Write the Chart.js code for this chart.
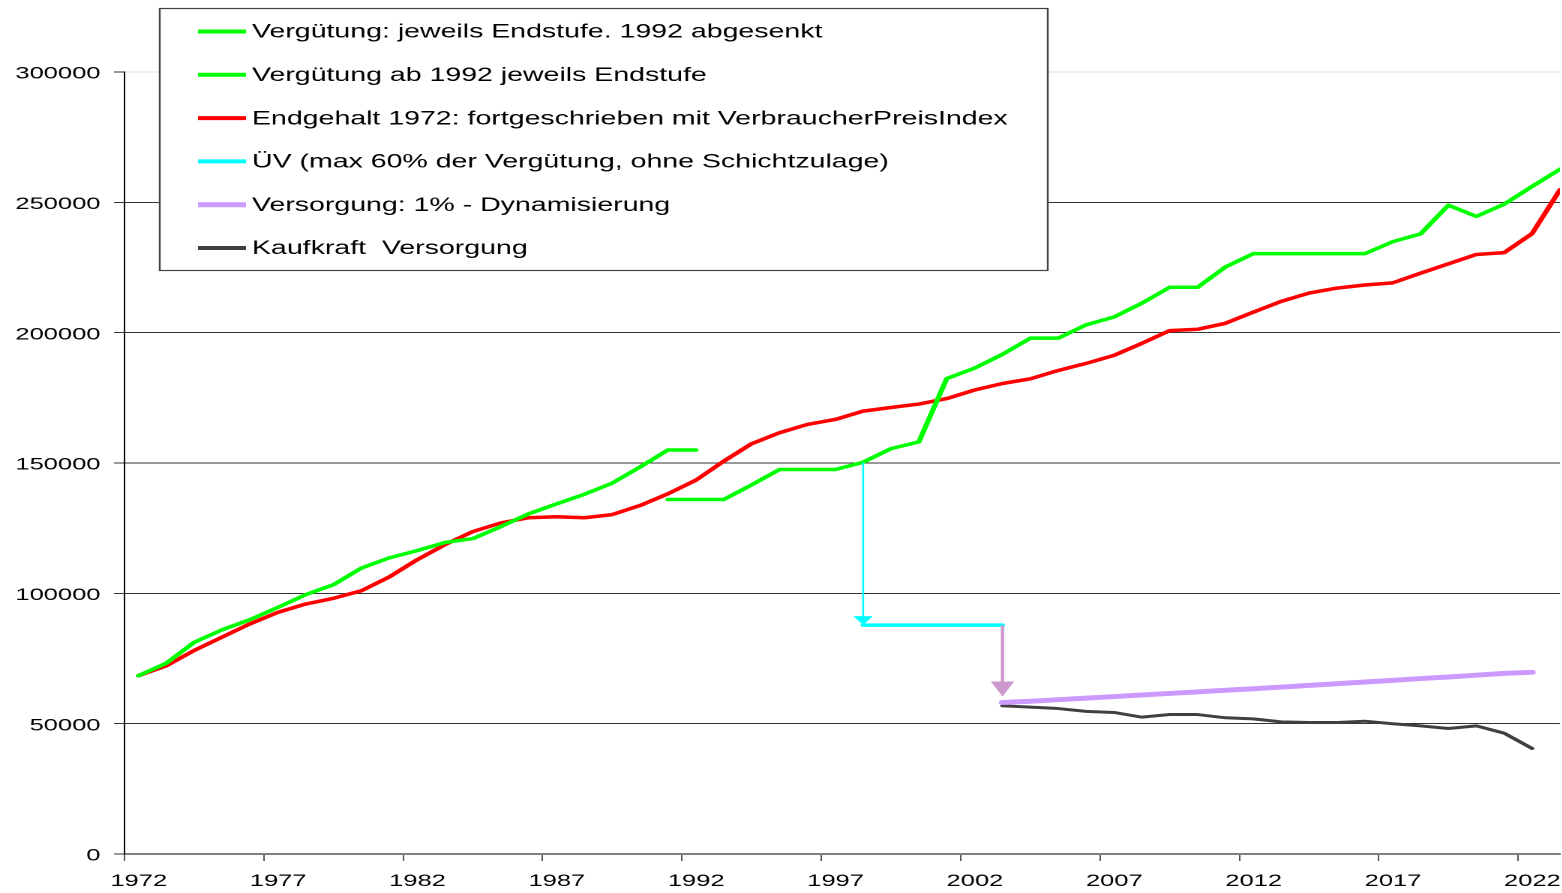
<!DOCTYPE html>
<html lang="de">
<head>
<meta charset="UTF-8">
<title>Vergütung und Versorgung</title>
<script src="https://cdn.jsdelivr.net/npm/chart.js"></script>
<style>
  html, body { margin: 0; padding: 0; background: #fff; overflow: hidden; }
  /* the original picture is stretched sideways, so the chart is drawn narrow and widened */
  #wrap { width: 1041px; height: 893px; transform: scaleX(1.5); transform-origin: 0 0; }
</style>
</head>
<body>
<div id="wrap"><canvas id="myChart" width="1041" height="893"></canvas></div>
<script>
const years = [1972, 1973, 1974, 1975, 1976, 1977, 1978, 1979, 1980, 1981,
               1982, 1983, 1984, 1985, 1986, 1987, 1988, 1989, 1990, 1991,
               1992, 1993, 1994, 1995, 1996, 1997, 1998, 1999, 2000, 2001,
               2002, 2003, 2004, 2005, 2006, 2007, 2008, 2009, 2010, 2011,
               2012, 2013, 2014, 2015, 2016, 2017, 2018, 2019, 2020, 2021,
               2022, 2023];

const labels = [
    "Vergütung: jeweils Endstufe. 1992 abgesenkt",
    "Vergütung ab 1992 jeweils Endstufe",
    "Endgehalt 1972: fortgeschrieben mit VerbraucherPreisIndex",
    "ÜV (max 60% der Vergütung, ohne Schichtzulage)",
    "Versorgung: 1% - Dynamisierung",
    "Kaufkraft  Versorgung"
];

// 1972 .. 1992
const verguetungAlt = [68400, 73200, 81200, 86000, 89900, 94600, 99500, 103300, 109700, 113600,
                       116400, 119500, 121000, 125600, 130500, 134300, 138000, 142300, 148500, 155000,
                       155000, null, null, null, null, null, null, null, null, null,
                       null, null, null, null, null, null, null, null, null, null,
                       null, null, null, null, null, null, null, null, null, null,
                       null, null];

// 1991 .. 2023
const verguetungNeu = [null, null, null, null, null, null, null, null, null, null,
                       null, null, null, null, null, null, null, null, null, 136000,
                       136000, 136000, 141600, 147500, 147500, 147500, 150300, 155500, 158100, 182400,
                       186400, 191700, 197900, 197900, 203000, 206000, 211300, 217400, 217400, 225200,
                       230300, 230300, 230300, 230300, 230300, 234900, 237900, 248900, 244600, 249300,
                       256100, 262700];

const endgehaltVPI = [68400, 72200, 78100, 83200, 88300, 92700, 95900, 98100, 101000, 106300,
                      112900, 118700, 123700, 127000, 129000, 129400, 129000, 130200, 133700, 138200,
                      143400, 150700, 157400, 161600, 164800, 166700, 169900, 171300, 172600, 174700,
                      178000, 180500, 182300, 185500, 188200, 191300, 195900, 200800, 201300, 203600,
                      207900, 212000, 215200, 217100, 218300, 219100, 222800, 226400, 230000, 230700,
                      238000, 254800];

// 1998 .. 2003
const uebergangsVersorgung = [null, null, null, null, null, null, null, null, null, null,
                              null, null, null, null, null, null, null, null, null, null,
                              null, null, null, null, null, null, 87800, 87800, 87800, 87800,
                              87800, 87800, null, null, null, null, null, null, null, null,
                              null, null, null, null, null, null, null, null, null, null,
                              null, null];

// 2003 .. 2022
const versorgung = [null, null, null, null, null, null, null, null, null, null,
                    null, null, null, null, null, null, null, null, null, null,
                    null, null, null, null, null, null, null, null, null, null,
                    null, 58100, 58600, 59200, 59800, 60400, 61000, 61600, 62200, 62800,
                    63400, 64000, 64700, 65300, 66000, 66600, 67300, 67900, 68600, 69300,
                    69700, null];

const kaufkraft = [null, null, null, null, null, null, null, null, null, null,
                   null, null, null, null, null, null, null, null, null, null,
                   null, null, null, null, null, null, null, null, null, null,
                   null, 56850, 56350, 55800, 54700, 54300, 52500, 53500, 53500, 52250,
                   51850, 50700, 50450, 50450, 50950, 49950, 49150, 48150, 49150, 46350,
                   40500, null];

const xTickYears = [1972, 1977, 1982, 1987, 1992, 1997, 2002, 2007, 2012, 2017, 2022];
const yTickValues = [0, 50000, 100000, 150000, 200000, 250000, 300000];

// arrows: ÜV from the salary line, then Versorgung from ÜV
const arrowYears = [1998, 2003];
const arrowFrom = [150300, 87800];
const arrowTo = [87800, 60400];

const fontFamily = "'Liberation Sans', Arial, Helvetica, sans-serif";
Chart.defaults.font.family = fontFamily;
Chart.defaults.color = '#000';

// values belong to the middle of each year
function toPoints(vals) {
    return years.map((yr, i) => ({ x: yr + 0.5, y: vals[i] }));
}

function lineSet(label, vals, color, width) {
    return {
        label: label,
        data: toPoints(vals),
        borderColor: color,
        backgroundColor: color,
        borderWidth: width,
        pointRadius: 0,
        tension: 0,
        spanGaps: false,
        borderJoinStyle: 'round',
        borderCapStyle: 'round'
    };
}

const arrowPlugin = {
    id: 'arrows',
    afterDatasetsDraw(chart) {
        const ctx = chart.ctx;
        const xs = chart.scales.x, ys = chart.scales.y;
        const styles = [
            { color: '#00ffff', width: 1.3, half: 6.5, head: 9 },
            { color: '#cc99cc', width: 2.2, half: 7.8, head: 15 }
        ];
        ctx.save();
        arrowYears.forEach((yr, i) => {
            const st = styles[i];
            const x = xs.getPixelForValue(yr + 0.5);
            const y0 = ys.getPixelForValue(arrowFrom[i]);
            const y1 = ys.getPixelForValue(arrowTo[i]);
            ctx.strokeStyle = st.color;
            ctx.lineWidth = st.width;
            ctx.beginPath();
            ctx.moveTo(x, y0);
            ctx.lineTo(x, y1 - st.head + 1);
            ctx.stroke();
            ctx.fillStyle = st.color;
            ctx.beginPath();
            ctx.moveTo(x - st.half, y1 - st.head);
            ctx.lineTo(x + st.half, y1 - st.head);
            ctx.lineTo(x, y1);
            ctx.closePath();
            ctx.fill();
        });
        ctx.restore();
    }
};

const boxLegend = {
    id: 'boxLegend',
    afterDraw(chart) {
        const ctx = chart.ctx;
        ctx.save();
        ctx.fillStyle = '#fff';
        ctx.fillRect(106.5, 8.5, 592, 262);
        ctx.strokeStyle = '#404040';
        ctx.lineWidth = 1.2;
        ctx.strokeRect(106.5, 8.5, 592, 262);
        ctx.font = '19px ' + fontFamily;
        ctx.textBaseline = 'middle';
        ctx.textAlign = 'left';
        chart.data.datasets.forEach((ds, i) => {
            const y = 31.5 + i * 43.3;
            ctx.strokeStyle = ds.borderColor;
            ctx.lineWidth = i === 4 ? 5 : 4;
            ctx.lineCap = 'butt';
            ctx.beginPath();
            ctx.moveTo(132, y);
            ctx.lineTo(164, y);
            ctx.stroke();
            ctx.fillStyle = '#000';
            ctx.fillText(ds.label, 168, y + 1);
        });
        ctx.restore();
    }
};

const ctx = document.getElementById('myChart').getContext('2d');
const myChart = new Chart(ctx, {
    type: 'line',
    data: {
        datasets: [
            lineSet(labels[0], verguetungAlt, '#00ff00', 3.5),
            lineSet(labels[1], verguetungNeu, '#00ff00', 3.5),
            lineSet(labels[2], endgehaltVPI, '#ff0000', 3.5),
            lineSet(labels[3], uebergangsVersorgung, '#00ffff', 3.5),
            lineSet(labels[4], versorgung, '#cc99ff', 5),
            lineSet(labels[5], kaufkraft, '#404040', 3)
        ]
    },
    options: {
        responsive: false,
        animation: false,
        devicePixelRatio: 2,
        layout: { padding: { top: 72, left: 0, right: 0, bottom: 0 } },
        plugins: {
            legend: { display: false },
            tooltip: { enabled: false }
        },
        scales: {
            x: {
                type: 'linear',
                min: 1972,
                max: 2023.5,
                afterBuildTicks: s => { s.ticks = xTickYears.map(v => ({ value: v })); },
                afterFit: s => { s.height = 39; },
                ticks: {
                    autoSkip: false,
                    maxRotation: 0,
                    padding: 10,
                    labelOffset: 9.5,
                    color: '#000',
                    font: { size: 17 },
                    callback: v => String(v)
                },
                grid: { drawOnChartArea: false, tickLength: 7, tickColor: '#555', lineWidth: 1 },
                border: { display: true, color: '#808080', width: 2 }
            },
            y: {
                min: 0,
                max: 300000,
                afterBuildTicks: s => { s.ticks = yTickValues.map(v => ({ value: v })); },
                afterFit: s => { s.width = 83; },
                ticks: {
                    padding: 9,
                    labelOffset: 2,
                    color: '#000',
                    font: { size: 17 },
                    callback: v => String(v)
                },
                grid: {
                    color: c => {
                        if (!c.tick) return '#333';
                        if (c.tick.value === 0) return 'rgba(0,0,0,0)';
                        if (c.tick.value === 300000) return '#dcdcdc';
                        return '#333';
                    },
                    lineWidth: 1,
                    tickLength: 7,
                    tickColor: '#333'
                },
                border: { display: true, color: '#000', width: 1 }
            }
        }
    },
    plugins: [arrowPlugin, boxLegend]
});
</script>
</body>
</html>
